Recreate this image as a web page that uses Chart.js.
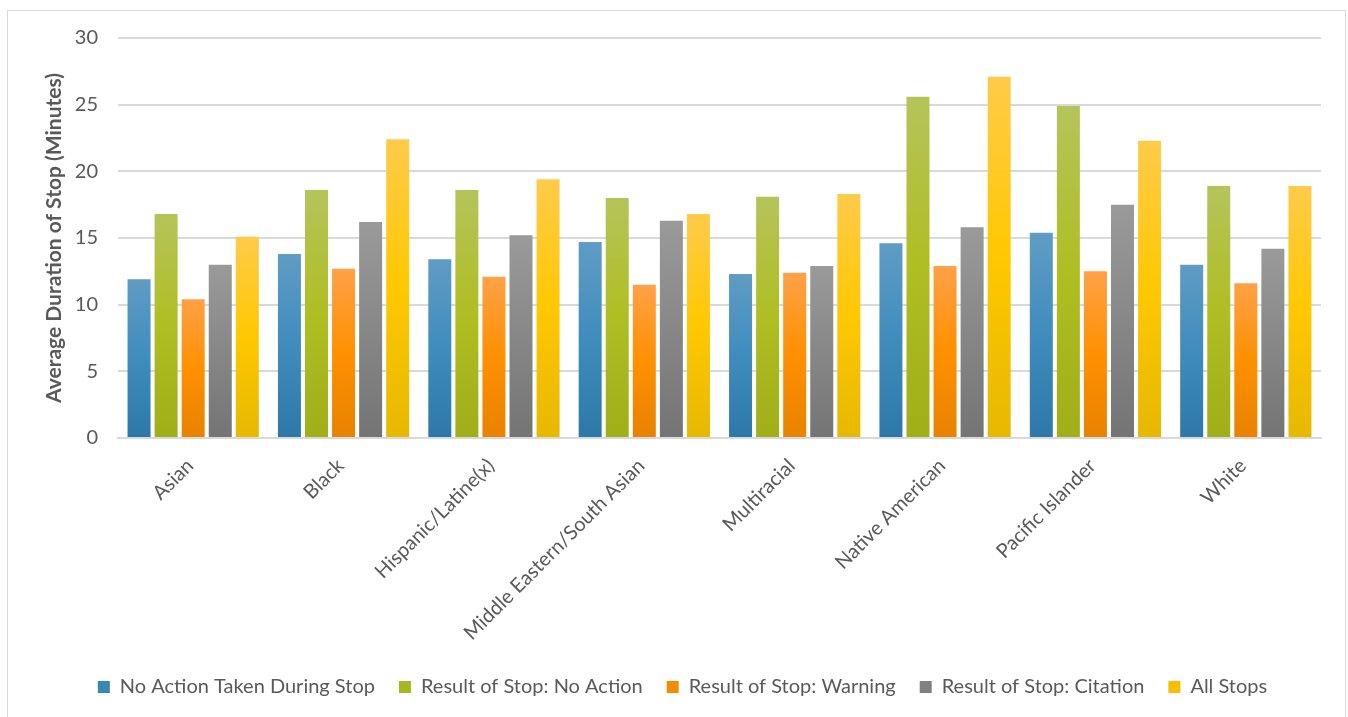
<!DOCTYPE html>
<html>
<head>
<meta charset="utf-8">
<script src="https://cdn.jsdelivr.net/npm/chart.js@4"></script>
<style>
  html, body { margin: 0; padding: 0; background: #fff; }
  #wrap { position: relative; width: 1348px; height: 717px; }
  #frame { position: absolute; left: 7px; top: 10px; width: 1339px; height: 712px; border: 1px solid #d9d9d9; box-sizing: border-box; pointer-events: none; }
  canvas { position: absolute; left: 0; top: 0; }
</style>
</head>
<body>
<div id="wrap">
  <canvas id="chart" width="1348" height="717"></canvas>
  <div id="frame"></div>
</div>
<script>
'use strict';

const groups = ['Asian', 'Black', 'Hispanic/Latine(x)', 'Middle Eastern/South Asian',
  'Multiracial', 'Native American', 'Pacific Islander', 'White'];

const noActionTaken = [11.9, 13.8, 13.4, 14.7, 12.3, 14.6, 15.4, 13.0];
const resultNoAction = [16.8, 18.6, 18.6, 18.0, 18.1, 25.6, 24.9, 18.9];
const resultWarning = [10.4, 12.7, 12.1, 11.5, 12.4, 12.9, 12.5, 11.6];
const resultCitation = [13.0, 16.2, 15.2, 16.3, 12.9, 15.8, 17.5, 14.2];
const allStops = [15.1, 22.4, 19.4, 16.8, 18.3, 27.1, 22.3, 18.9];

const seriesNames = ['No Action Taken During Stop', 'Result of Stop: No Action',
  'Result of Stop: Warning', 'Result of Stop: Citation', 'All Stops'];

const yTicks = [0, 5, 10, 15, 20, 25, 30];

// top / middle / bottom of each bar's gradient
const shades = [
  ['#609cc4', '#3f8cbd', '#2d78a8'],
  ['#b5c45a', '#afbe22', '#a0ae18'],
  ['#ffa148', '#ff9000', '#e88200'],
  ['#9a9a9a', '#878787', '#747474'],
  ['#ffcb4a', '#ffc800', '#e6b800']
];
const legendColors = ['#3a86b6', '#a7b71f', '#f58c00', '#808080', '#f5c000'];

const textColor = '#595959';
const fontName = 'Lato, "Open Sans", sans-serif';

function barFill(idx) {
  return function (c) {
    const chart = c.chart;
    if (!chart.chartArea || c.raw == null) return shades[idx][1];
    const y = chart.scales.y;
    const top = y.getPixelForValue(c.raw);
    const bot = y.getPixelForValue(0);
    const g = chart.ctx.createLinearGradient(0, top, 0, bot);
    g.addColorStop(0, shades[idx][0]);
    g.addColorStop(0.5, shades[idx][1]);
    g.addColorStop(1, shades[idx][2]);
    return g;
  };
}

const allSeries = [noActionTaken, resultNoAction, resultWarning, resultCitation, allStops];
const datasets = allSeries.map((vals, i) => ({
  label: seriesNames[i],
  data: vals,
  backgroundColor: barFill(i),
  borderWidth: 0,
  categoryPercentage: 0.9,
  barPercentage: 0.85
}));

new Chart(document.getElementById('chart'), {
  type: 'bar',
  data: { labels: groups, datasets: datasets },
  options: {
    responsive: false,
    animation: false,
    layout: { padding: { left: 44, right: 27, top: 38, bottom: 10 } },
    plugins: {
      tooltip: { enabled: false },
      legend: {
        position: 'bottom',
        labels: {
          color: textColor,
          font: { family: fontName, size: 20 },
          boxWidth: 12,
          boxHeight: 12,
          padding: 24,
          generateLabels: function (chart) {
            return chart.data.datasets.map((ds, i) => ({
              text: ds.label,
              fillStyle: legendColors[i],
              strokeStyle: legendColors[i],
              lineWidth: 0,
              fontColor: textColor,
              datasetIndex: i,
              hidden: false
            }));
          }
        }
      }
    },
    scales: {
      x: {
        grid: { display: false, drawTicks: false },
        border: { display: true, color: '#d9d9d9', width: 2 },
        ticks: {
          color: textColor,
          font: { family: fontName, size: 20 },
          maxRotation: 45,
          minRotation: 45,
          padding: 16,
          labelOffset: -3,
          autoSkip: false
        },
        afterFit: function (scale) { scale.height = 215; }
      },
      y: {
        min: 0,
        max: 30,
        afterBuildTicks: function (scale) { scale.ticks = yTicks.map(v => ({ value: v })); },
        grid: { color: '#d9d9d9', lineWidth: 2, drawTicks: false },
        border: { display: false },
        ticks: {
          color: textColor,
          font: { family: fontName, size: 20 },
          padding: 20
        },
        title: {
          display: true,
          text: 'Average Duration of Stop (Minutes)',
          color: textColor,
          font: { family: fontName, size: 21, weight: 'bold', lineHeight: 1.0 },
          padding: { top: 0, bottom: 0 }
        },
        afterFit: function (scale) { scale.width = 74; }
      }
    }
  }
});
</script>
</body>
</html>
